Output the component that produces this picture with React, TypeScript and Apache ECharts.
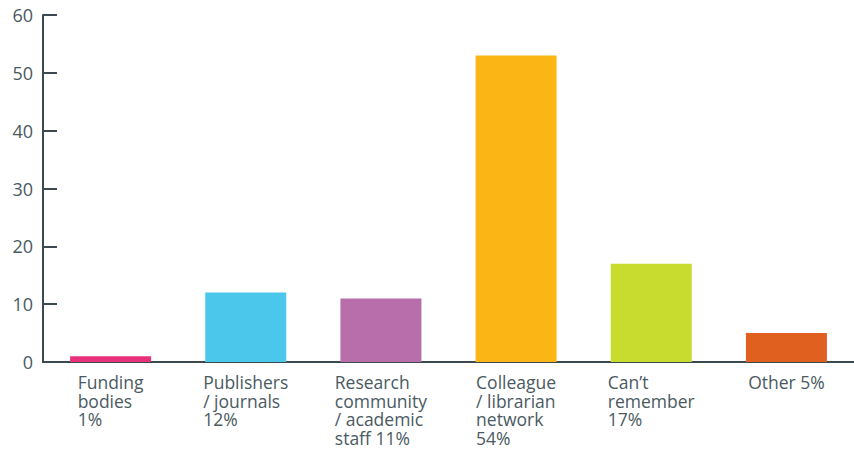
import React, { useEffect, useRef } from "react";
import * as echarts from "echarts";

const categories = [
  "Funding\nbodies\n1%",
  "Publishers\n/ journals\n12%",
  "Research\ncommunity\n/ academic\nstaff 11%",
  "Colleague\n/ librarian\nnetwork\n54%",
  "Can’t\nremember\n17%",
  "Other 5%",
];
const values = [1, 12, 11, 53, 17, 5];
const colors = ["#e8317a", "#4bc7ec", "#b76eab", "#fbb616", "#c8db2f", "#e06020"];

export default function App() {
  const ref = useRef<HTMLDivElement>(null);
  useEffect(() => {
    if (!ref.current) return;
    const chart = echarts.init(ref.current, undefined, { renderer: "svg" });
    const axisColor = "#3b4a50";
    const textColor = "#4a5a5f";
    chart.setOption({
      animation: false,
      grid: { left: 43, top: 15, bottom: 87, width: 816 },
      xAxis: {
        type: "category",
        data: categories,
        axisLine: { lineStyle: { color: axisColor, width: 2 } },
        axisTick: { inside: true, length: 8, lineStyle: { color: axisColor, width: 2 } },
        axisLabel: {
          interval: 0,
          margin: 11,
          formatter: (v: string) => `{a|${v}}`,
          rich: {
            a: {
              align: "left",
              fontFamily: "Open Sans",
              fontSize: 17.5,
              lineHeight: 18.5,
              color: textColor,
            },
          },
        },
      },
      yAxis: {
        type: "value",
        min: 0,
        max: 60,
        interval: 10,
        splitLine: { show: false },
        axisLine: { show: true, lineStyle: { color: axisColor, width: 2 } },
        axisTick: { show: true, inside: true, length: 14, lineStyle: { color: axisColor, width: 2 } },
        axisLabel: {
          margin: 10,
          fontFamily: "Open Sans",
          fontSize: 18,
          color: textColor,
        },
      },
      series: [
        {
          type: "bar",
          barWidth: 81,
          data: values.map((v, i) => ({ value: v, itemStyle: { color: colors[i] } })),
        },
      ],
    });
    return () => chart.dispose();
  }, []);
  return (
    <div
      ref={ref}
      style={{ position: "absolute", left: 0, top: 0, width: 854, height: 449 }}
    />
  );
}
